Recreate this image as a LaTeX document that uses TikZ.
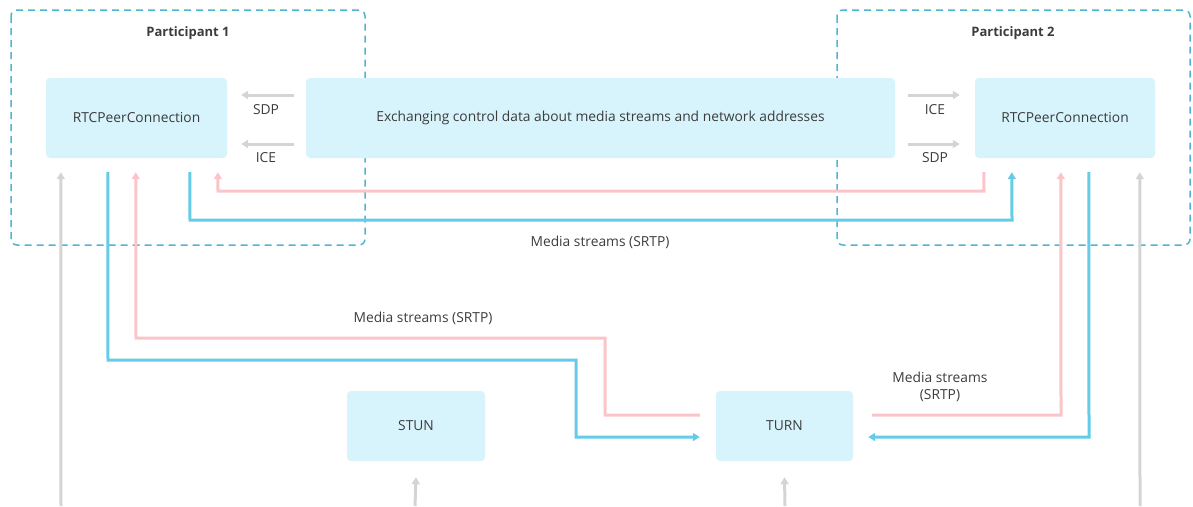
\documentclass[tikz,border=0pt]{standalone}
\usepackage{fontspec}
\setmainfont{Open Sans}
\usetikzlibrary{arrows.meta,calc}
\definecolor{boxfill}{RGB}{215,243,252}
\definecolor{dashc}{RGB}{80,180,210}
\definecolor{bluel}{RGB}{100,204,232}
\definecolor{pinkl}{RGB}{250,196,200}
\definecolor{grayl}{RGB}{212,212,212}
\definecolor{txt}{RGB}{60,60,60}
\tikzset{
  blk/.style={fill=boxfill, rounded corners=4pt, minimum height=80pt, inner sep=0pt, text=txt, font=\fontsize{13.8}{17}\selectfont},
  grp/.style={draw=dashc, line width=1.5pt, dash pattern=on 7pt off 5pt, rounded corners=6pt},
  lbl/.style={text=txt, font=\fontsize{13.8}{17}\selectfont, inner sep=0pt},
  ttl/.style={text=txt, font=\fontsize{13}{16}\selectfont\bfseries, inner sep=0pt},
  tip/.style={-{Triangle[width=8pt,length=7pt]}},
  gline/.style={draw=grayl, line width=3pt, tip},
  bline/.style={draw=bluel, line width=3pt},
  pline/.style={draw=pinkl, line width=3pt},
}
\begin{document}
\begin{tikzpicture}[x=1pt,y=-1pt]
\useasboundingbox (0,0) rectangle (1193,506);
% groups
\draw[grp] (11,10) rectangle (365,245);
\draw[grp] (837,10) rectangle (1190,245);
\node[ttl] (p1) at (188,33) {Participant 1};
\node[ttl] (p2) at (1013,33) {Participant 2};
% blocks
\node[blk, minimum width=181pt] (rtc1) at (136.5,118) {RTCPeerConnection};
\node[blk, minimum width=589pt] (ex) at (600.5,118) {Exchanging control data about media streams and network addresses};
\node[blk, minimum width=180pt] (rtc2) at (1065,118) {RTCPeerConnection};
\node[blk, minimum width=138pt, minimum height=70pt] (stun) at (416,426) {STUN};
\node[blk, minimum width=137pt, minimum height=70pt] (turn) at (784.5,426) {TURN};
% SDP / ICE
\draw[gline] ([xshift=-12pt,yshift=23pt]ex.west) -- ([xshift=14pt,yshift=23pt]rtc1.east);
\draw[gline] ([xshift=-12pt,yshift=-26pt]ex.west) -- ([xshift=14pt,yshift=-26pt]rtc1.east);
\node[lbl] (sdp1) at (266,110) {SDP};
\node[lbl] (ice1) at (266,158) {ICE};
\draw[gline] ([xshift=13pt,yshift=23pt]ex.east) -- ([xshift=-15pt,yshift=23pt]rtc2.west);
\draw[gline] ([xshift=13pt,yshift=-26pt]ex.east) -- ([xshift=-15pt,yshift=-26pt]rtc2.west);
\node[lbl] (ice2) at (935,110) {ICE};
\node[lbl] (sdp2) at (935,158) {SDP};
% bottom coordinates
\coordinate (b1) at (61,506);
\coordinate (b2) at (415,506);
\coordinate (b3) at (785,506);
\coordinate (b4) at (1140,506);
\draw[gline] (b1) -- ([xshift=15pt,yshift=-14pt]rtc1.south west);
\draw[gline] (b4) -- ([xshift=165pt,yshift=-14pt]rtc2.south west);
\draw[gline] (b2) -- ([yshift=-16pt]stun.south);
\draw[gline] (b3) -- ([yshift=-16pt]turn.south);
% direct media between participants
\draw[pline, tip] ([xshift=9pt,yshift=-14pt]rtc2.south west) -- (984,191) -- (218,191) -- ([xshift=172pt,yshift=-14pt]rtc1.south west);
\draw[bline, tip] ([xshift=144pt,yshift=-14pt]rtc1.south west) -- (190,220) -- (1012,220) -- ([xshift=37pt,yshift=-14pt]rtc2.south west);
\node[lbl] (m1) at (600,242) {Media streams (SRTP)};
% via TURN, left side
\draw[bline, tip] ([xshift=62pt,yshift=-14pt]rtc1.south west) -- (108,360) -- (576,360) -- (576,437) -- ([xshift=-16pt,yshift=-11pt]turn.west);
\draw[pline, tip] ([xshift=-16pt,yshift=11pt]turn.west) -- (605,415) -- (605,338) -- (136,338) -- ([xshift=90pt,yshift=-14pt]rtc1.south west);
\node[lbl] (m2) at (423,318) {Media streams (SRTP)};
% via TURN, right side
\draw[pline, tip] ([xshift=19pt,yshift=11pt]turn.east) -- (1061,415) -- ([xshift=86pt,yshift=-14pt]rtc2.south west);
\draw[bline, tip] ([xshift=114pt,yshift=-14pt]rtc2.south west) -- (1089,437) -- ([xshift=15pt,yshift=-11pt]turn.east);
\node[lbl, align=center] (m3) at (940,387) {Media streams\\(SRTP)};
\end{tikzpicture}
\end{document}
